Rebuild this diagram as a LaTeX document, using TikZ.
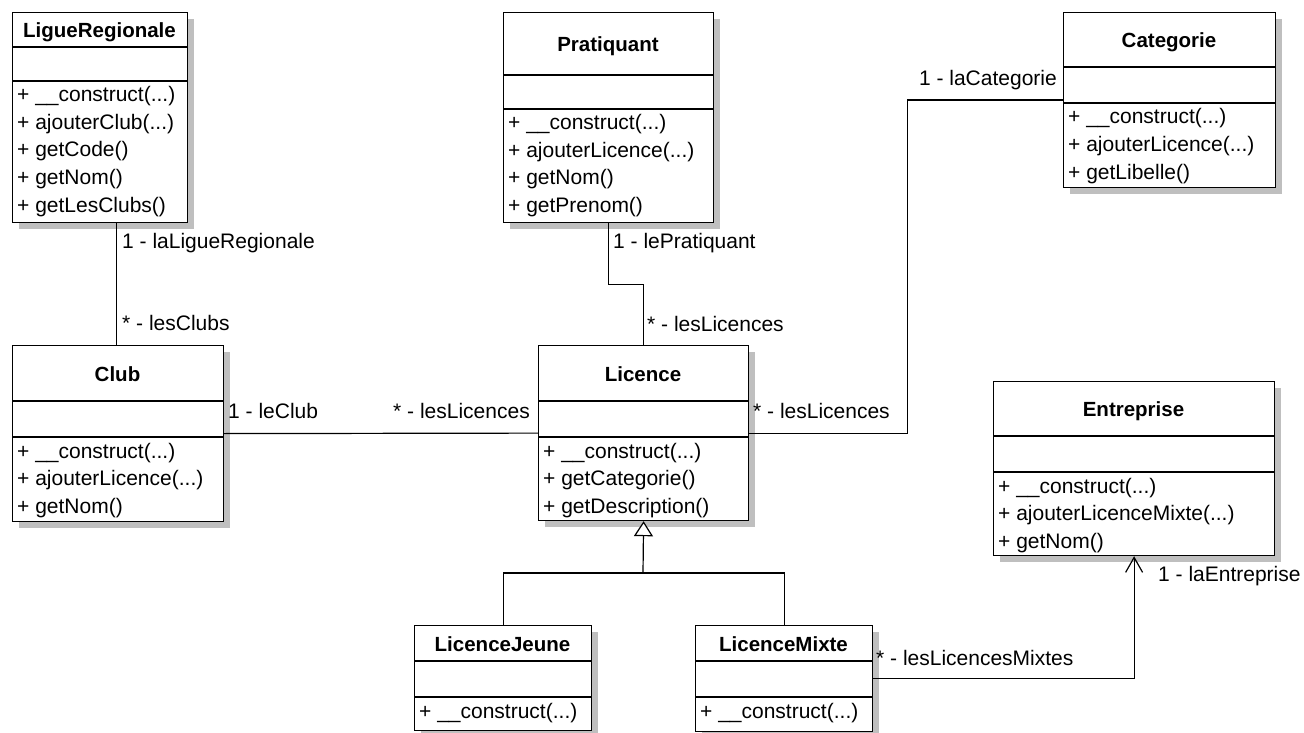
\documentclass[tikz,border=0pt]{standalone}
\usepackage{fontspec}
\setmainfont{Liberation Sans}
\usetikzlibrary{arrows.meta,shadows}
\newcommand\tdots{...}
% #1 name, #2 left, #3 top, #4 width, #5 height, #6 header h, #7 attr h, #8 title
\newcommand\umlclass[8]{%
  \node[cls, minimum width=#4pt, minimum height=#5pt] (#1) at (#2,#3) {};
  \draw[divider] (#2,{#3+#6}) -- ({#2+#4},{#3+#6});
  \draw[divider] (#2,{#3+#6+#7}) -- ({#2+#4},{#3+#6+#7});
  \node[clstitle] (#1-title) at ({#2+#4/2},{#3+#6/2+8}) {#8};
}
% #1 name, #2 left, #3 y of second divider, #4 list of operations
\newcommand\umlops[4]{%
  \foreach \m [count=\i from 0] in {#4}
    \node[op] (#1-op\i) at ({#2+5},{#3+21+27.5*\i}) {\m};
}
\begin{document}
\begin{tikzpicture}[x=1pt,y=-1pt,
  cls/.style={draw, line width=1.2pt, fill=white, anchor=north west, inner sep=0pt,
    drop shadow={shadow xshift=6pt, shadow yshift=-6pt, fill=black!25, opacity=1}},
  divider/.style={line width=1.2pt},
  clstitle/.style={anchor=base, inner sep=0pt, font=\fontsize{20.5}{24}\selectfont\bfseries},
  op/.style={anchor=base west, inner sep=0pt, font=\fontsize{21}{24}\selectfont},
  lbl/.style={inner sep=0pt, font=\fontsize{21}{24}\selectfont},
  conn/.style={line width=1.2pt}]
\useasboundingbox (0,0) rectangle (1304,733);

\umlclass{lr}{12}{12}{175}{210}{35}{34}{LigueRegionale}
\umlops{lr}{12}{81}{+ \_\_construct(\tdots), + ajouterClub(\tdots), + getCode(), + getNom(), + getLesClubs()}

\umlclass{prat}{503}{12}{210}{210}{63}{34}{Pratiquant}
\umlops{prat}{503}{109}{+ \_\_construct(\tdots), + ajouterLicence(\tdots), + getNom(), + getPrenom()}

\umlclass{cat}{1063}{12}{212}{175}{55}{36}{Categorie}
\umlops{cat}{1063}{103}{+ \_\_construct(\tdots), + ajouterLicence(\tdots), + getLibelle()}

\umlclass{club}{12}{345}{211}{176}{56}{36}{Club}
\umlops{club}{12}{437}{+ \_\_construct(\tdots), + ajouterLicence(\tdots), + getNom()}

\umlclass{lic}{538}{345}{210}{175}{56}{36}{Licence}
\umlops{lic}{538}{437}{+ \_\_construct(\tdots), + getCategorie(), + getDescription()}

\umlclass{ent}{993}{381}{281}{174}{55}{36}{Entreprise}
\umlops{ent}{993}{472}{+ \_\_construct(\tdots), + ajouterLicenceMixte(\tdots), + getNom()}

\umlclass{lj}{414}{625}{177}{105}{36}{36}{LicenceJeune}
\umlops{lj}{414}{697}{+ \_\_construct(\tdots)}

\umlclass{lm}{695}{625}{177}{106}{36}{36}{LicenceMixte}
\umlops{lm}{695}{697}{+ \_\_construct(\tdots)}

% connectors
\draw[conn] ([xshift=-1.5pt]club.north) -- ([xshift=-1.5pt]club.north |- lr.south);
\draw[conn] (prat.south) -- ++(0,61) -| (lic.north);
\draw[conn] (club.east) -- (lic.west);
\draw[conn] (lic.east) -- ++(158,0) |- (cat.west);
\coordinate (gen) at (643,573);
\draw[conn] (lj.north) |- (gen) -| (lm.north);
\draw[conn, -{Triangle[open, length=15pt, width=19pt, fill=white]}] (gen) -- (lic.south);
\draw[conn, -{Straight Barb[length=15pt, width=17pt]}] (lm.east) -| (ent.south);

% labels
\node[lbl, anchor=base west] (l1) at (122,248) {1 - laLigueRegionale};
\node[lbl, anchor=base west] (l2) at (122,330) {* - lesClubs};
\node[lbl, anchor=base west] (l3) at (613,248) {1 - lePratiquant};
\node[lbl, anchor=base west] (l4) at (647,331) {* - lesLicences};
\node[lbl, anchor=base west] (l5) at (228,418) {1 - leClub};
\node[lbl, anchor=base east] (l6) at (530,418) {* - lesLicences};
\node[lbl, anchor=base west] (l7) at (753,418) {* - lesLicences};
\node[lbl, anchor=base east] (l8) at (1057,86) {1 - laCategorie};
\node[lbl, anchor=base west] (l9) at (876,665) {* - lesLicencesMixtes};
\node[lbl, anchor=base west] (l10) at (1158,581) {1 - laEntreprise};
\end{tikzpicture}
\end{document}
